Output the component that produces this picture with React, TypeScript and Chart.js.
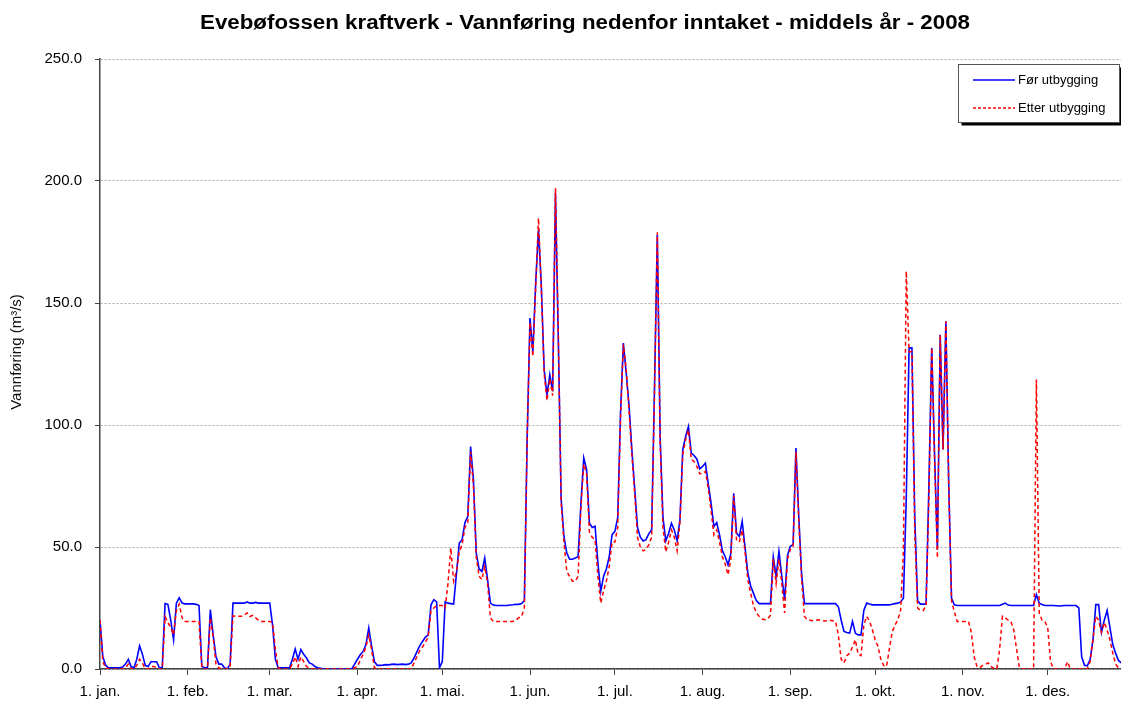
import React, { useEffect, useRef } from "react";
import { Chart, registerables } from "chart.js";

Chart.register(...registerables);

const chartTitle = "Evebøfossen kraftverk - Vannføring nedenfor inntaket - middels år - 2008";
const yAxisTitle = "Vannføring (m³/s)";
const seriesNames = ["Før utbygging", "Etter utbygging"];
const monthLabels = ["1. jan.", "1. feb.", "1. mar.", "1. apr.", "1. mai.", "1. jun.", "1. jul.", "1. aug.", "1. sep.", "1. okt.", "1. nov.", "1. des."];
const monthStartDays = [0, 31, 60, 91, 121, 152, 182, 213, 244, 274, 305, 335];
const yMin = 0;
const yMax = 250;
const yStep = 50;

// Daily flow 2008 (366 days), before development
const forUtbygging = [
  // jan
  20, 5, 1.5, 0.5, 0.5, 0.5, 0.5, 0.5, 0.8, 2, 4, 1, 0.5, 4, 9.5, 6, 1.5, 1, 3, 3, 3, 0.5, 0.5, 26.8, 26.5, 20, 12, 27, 29.2, 27, 26.7,
  // feb
  26.7, 26.7, 26.7, 26.5, 26, 1, 0.5, 0.5, 24.3, 14, 5, 2, 2, 0.5, 0, 2, 27, 27, 27, 27, 27, 27.5, 27, 27, 27.3, 27, 27, 27, 27,
  // mar
  27, 18, 4, 0.5, 0.5, 0.5, 0.5, 0.5, 4, 8.2, 4, 8, 6, 4.5, 2.5, 2, 1, 0.5, 0.3, 0, 0, 0, 0, 0, 0, 0, 0, 0, 0, 0, 2,
  // apr
  4, 5.8, 7.2, 10, 16.8, 9.5, 3, 1.5, 1.5, 1.6, 1.8, 1.7, 1.9, 2, 1.8, 1.9, 2, 1.8, 2, 2.5, 4.5, 7, 9.5, 11.3, 13, 14, 26.3, 28.4, 27.5, 0.5,
  // mai
  3, 27.5, 27, 26.8, 26.6, 39, 51.6, 53, 60, 62.5, 91.2, 77.6, 47.5, 41, 40, 45.5, 36.6, 27, 26.2, 26, 26, 26, 26, 26, 26.2, 26.3, 26.5, 26.5, 26.8, 28, 95,
  // jun
  143.8, 130, 158, 180, 157, 122.7, 112.4, 120.6, 113.8, 195, 135, 70, 54.3, 47.5, 45, 45, 45.5, 46, 68, 86.5, 81.7, 59.8, 58, 58.5, 43.4, 31.8, 38, 41, 46, 55,
  // jul
  56.4, 62, 105, 133.6, 121.3, 108, 90, 74, 58, 54, 52.5, 53, 55.5, 57, 115, 178, 95, 62, 52.5, 55.6, 59.8, 57, 52.5, 61.2, 89.9, 95.3, 99.4, 88.5, 87.5, 86, 82,
  // aug
  83, 84.4, 76, 68, 58.4, 60, 55, 48.5, 46, 42.7, 47.5, 72, 55.7, 54.3, 60.5, 50, 39.3, 34, 31, 28, 26.8, 26.8, 26.8, 26.8, 26.8, 46, 38, 48.2, 38, 28.4, 46.5,
  // sep
  50.3, 51, 90.6, 62.5, 39, 26.8, 26.8, 26.8, 26.8, 26.8, 26.8, 26.8, 26.8, 26.8, 26.8, 26.8, 26.8, 25.5, 20, 15.4, 15, 14.7, 19.5, 14.7, 14, 14, 24, 27, 26.6, 26.3,
  // okt
  26.3, 26.3, 26.3, 26.3, 26.3, 26.3, 26.5, 26.8, 27, 27.5, 29, 70, 131.6, 131.6, 62.5, 28, 26.6, 26.6, 26.6, 75, 131.6, 88, 49, 137, 90, 142.5, 76, 29, 26.3, 26, 26,
  // nov
  26, 26, 26, 26, 26, 26, 26, 26, 26, 26, 26, 26, 26, 26, 26.5, 27, 26.2, 26, 26, 26, 26, 26, 26, 26, 26, 26, 30.5, 27, 26.4, 26,
  // des
  26, 26, 26, 25.9, 25.8, 25.9, 26, 26, 26, 26, 26, 25, 5, 1.5, 1.3, 4, 12, 26.4, 26.4, 15, 20, 24, 17, 10, 6.5, 3.5, 2.5, 2, 1.5, 1.5, 1.5,
];

// Daily flow 2008 (366 days), after development
const etterUtbygging = [
  // jan
  20, 3, 0.5, 0, 0, 0, 0, 0, 0, 0.5, 2, 0, 0, 1.5, 4, 2.5, 0, 0, 1, 1, 0.5, 0, 0, 21.4, 19, 17, 14, 24, 26.6, 21, 19.5,
  // feb
  19.5, 19.5, 19.5, 19.5, 19.5, 0.5, 0, 0, 21, 13, 2, 0.5, 0, 0, 0, 1, 21.8, 21.6, 21.6, 21.6, 22, 23, 21.5, 22, 21, 20, 19.5, 19.5, 19.5,
  // mar
  19.5, 19, 8, 0.5, 0, 0, 0, 0, 2, 5, 1, 5, 3, 1, 0.3, 0, 0, 0, 0, 0, 0, 0, 0, 0, 0, 0, 0, 0, 0, 0, 0.5,
  // apr
  1, 3.7, 6, 9, 14, 8, 0.5, 0, 0, 0, 0, 0, 0, 0, 0, 0, 0, 0, 0, 0, 2.5, 5, 7.5, 9, 11, 13, 24, 25, 26, 26,
  // mai
  26, 25, 35, 49.6, 36, 40, 48, 51, 58, 60, 89, 75, 46, 38, 36.6, 42, 35, 21, 19.5, 19.5, 19.5, 19.5, 19.5, 19.5, 19.5, 19.5, 20, 21, 21.5, 25, 95,
  // jun
  142, 128, 156, 184.8, 156, 121, 110, 119, 112, 197, 138, 68, 52, 40, 38, 36, 36, 38, 66, 84, 80, 56, 54, 53, 38, 27, 32, 36, 42, 52,
  // jul
  52, 58, 103, 133, 123, 106, 88, 72, 54, 50, 48.4, 49, 51, 54, 113, 179, 93, 58, 48, 52, 57, 54, 48.4, 60, 88, 94, 98, 86, 85, 83, 80,
  // aug
  80, 81, 74, 65, 55, 57, 52, 46, 43, 38.6, 45, 71, 53, 52, 57, 48, 36.6, 31, 26, 23, 21.6, 20.5, 20.2, 20.5, 22, 45, 35, 45, 35, 23, 45,
  // sep
  49, 50, 89, 61, 37, 21.6, 20.2, 20, 19.8, 20, 20.2, 20, 19.7, 19.8, 20, 19.8, 19.5, 14, 4, 2.5, 5.5, 6.5, 9, 12, 6, 5.5, 18, 21.6, 19.7, 16.2,
  // okt
  12, 9.3, 4, 1.5, 1, 8, 15, 18, 20, 24, 48.9, 163, 130, 130, 56, 25, 24, 24, 26, 70, 131.6, 86, 45.5, 137, 90, 142.5, 76, 28, 23.4, 19.5, 19.5,
  // nov
  19.5, 19.5, 19.5, 15, 5, 1, 0.5, 1.5, 2, 2.5, 1, 0.3, 0, 8, 21.6, 21, 20, 19.5, 16, 8, 0.5, 0, 0, 0, 0, 0, 118.6, 23, 20, 19.5,
  // des
  17, 3, 0, 0, 0, 0, 0, 3, 0, 0, 0, 0, 0, 0, 0, 3, 12, 21.6, 20, 15, 19, 16, 12, 6.5, 2, 0.5, 0, 0, 0, 0, 0,
];

const FONT = '"Liberation Sans", Arial, Helvetica, sans-serif';

const decorPlugin = {
  id: "decor",
  afterDraw(chart: any) {
    const ctx = chart.ctx as CanvasRenderingContext2D;
    ctx.save();
    // Title, widened horizontally to the reference's width
    ctx.fillStyle = "#000";
    ctx.font = `bold 20px ${FONT}`;
    ctx.textAlign = "left";
    ctx.textBaseline = "alphabetic";
    const targetW = 770;
    const w0 = ctx.measureText(chartTitle).width;
    const sx = targetW / w0;
    ctx.save();
    ctx.translate(200, 29);
    ctx.scale(sx, 1);
    ctx.fillText(chartTitle, 0, 0);
    ctx.restore();

    // Y axis title
    ctx.save();
    ctx.translate(17, 352);
    ctx.rotate(-Math.PI / 2);
    ctx.font = `15px ${FONT}`;
    ctx.textAlign = "center";
    ctx.textBaseline = "middle";
    ctx.fillStyle = "#111";
    ctx.fillText(yAxisTitle, 0, 0);
    ctx.restore();

    // Legend box with shadow
    const bx = 958.5, by = 64.5, bw = 161, bh = 58;
    ctx.fillStyle = "#000";
    ctx.fillRect(bx + 3, by + 3, bw, bh);
    ctx.fillStyle = "#fff";
    ctx.fillRect(bx, by, bw, bh);
    ctx.strokeStyle = "#555";
    ctx.lineWidth = 1;
    ctx.strokeRect(bx, by, bw, bh);

    ctx.font = `13px ${FONT}`;
    ctx.textAlign = "left";
    ctx.textBaseline = "middle";
    // entry 1
    ctx.strokeStyle = "#0000ff";
    ctx.lineWidth = 1.3;
    ctx.setLineDash([]);
    ctx.beginPath();
    ctx.moveTo(973, 80);
    ctx.lineTo(1015, 80);
    ctx.stroke();
    ctx.fillStyle = "#000";
    ctx.fillText(seriesNames[0], 1018, 80);
    // entry 2
    ctx.strokeStyle = "#ff0000";
    ctx.setLineDash([3, 2]);
    ctx.beginPath();
    ctx.moveTo(973, 108);
    ctx.lineTo(1015, 108);
    ctx.stroke();
    ctx.setLineDash([]);
    ctx.fillText(seriesNames[1], 1018, 108);
    ctx.restore();
  },
};

export default function App() {
  const canvasRef = useRef<HTMLCanvasElement | null>(null);

  useEffect(() => {
    if (!canvasRef.current) return;
    const toPoints = (arr: number[]) => arr.map((v, i) => ({ x: i, y: v }));
    const chart = new Chart(canvasRef.current, {
      type: "line",
      data: {
        datasets: [
          {
            label: seriesNames[0],
            data: toPoints(forUtbygging),
            borderColor: "#0000ff",
            borderWidth: 1.6,
            pointRadius: 0,
            tension: 0,
            fill: false,
            order: 2,
          },
          {
            label: seriesNames[1],
            data: toPoints(etterUtbygging),
            borderColor: "#ff0000",
            borderWidth: 1.5,
            borderDash: [4, 3],
            pointRadius: 0,
            tension: 0,
            fill: false,
            order: 1,
          },
        ],
      },
      options: {
        responsive: false,
        devicePixelRatio: 1,
        animation: false,
        layout: { padding: { top: 59, left: 0, right: 0, bottom: 0 } },
        plugins: {
          legend: { display: false },
          title: { display: false },
          tooltip: { enabled: false },
        },
        scales: {
          x: {
            type: "linear",
            min: 0,
            max: (1121 - 100) / 2.829,
            afterBuildTicks: (scale: any) => {
              scale.ticks = monthStartDays.map((v) => ({ value: v }));
            },
            afterFit: (scale: any) => {
              scale.height = 33;
            },
            ticks: {
              autoSkip: false,
              maxRotation: 0,
              padding: 8,
              color: "#000",
              font: { family: FONT, size: 15 },
              callback: (_v: any, i: number) => monthLabels[i],
            },
            grid: {
              drawOnChartArea: false,
              drawTicks: true,
              tickLength: 6,
              tickColor: "#444",
              color: "#444",
            },
            border: { display: true, color: "#444", width: 1.5 },
          },
          y: {
            min: yMin,
            max: yMax,
            afterFit: (scale: any) => {
              scale.width = 100;
            },
            ticks: {
              stepSize: yStep,
              padding: 13,
              color: "#000",
              font: { family: FONT, size: 15 },
              callback: (v: any) => Number(v).toFixed(1),
            },
            grid: {
              color: "#a8a8a8",
              lineWidth: 1,
              drawTicks: true,
              tickLength: 5,
              tickColor: "#444",
            },
            border: { display: true, color: "#444", width: 1.5, dash: [2, 2] },
            title: { display: false },
          },
        },
      },
      plugins: [decorPlugin],
    } as any);
    return () => chart.destroy();
  }, []);

  return (
    <div
      style={{
        position: "fixed",
        left: 0,
        top: 0,
        width: 1121,
        height: 702,
        overflow: "hidden",
        background: "#fff",
      }}
    >
      <canvas
        ref={canvasRef}
        width={1121}
        height={702}
        style={{ display: "block", width: 1121, height: 702 }}
      />
    </div>
  );
}
